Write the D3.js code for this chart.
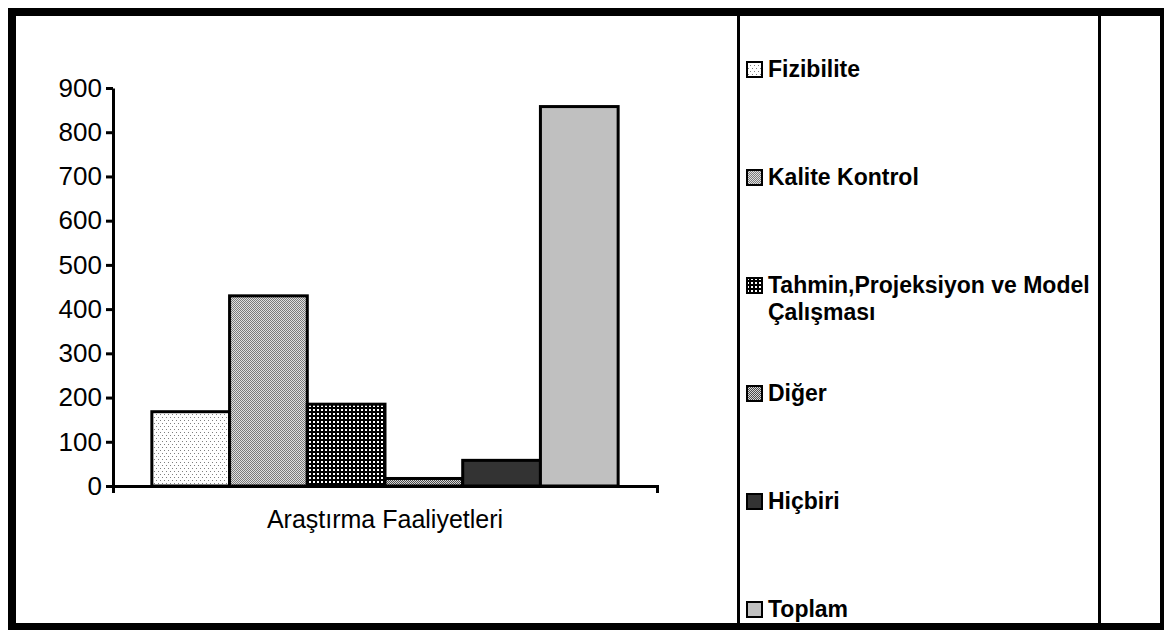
<!DOCTYPE HTML>
<html>
  <head>
    <meta charset='utf-8'>
    <title>Araştırma Faaliyetleri</title>
    <script src='https://d3js.org/d3.v7.min.js'></script>
    <style>
      body {margin:0; background:#fff;}
      svg text {font-family:'Liberation Sans',Arial,sans-serif; fill:#000;}
      .axis text {font-size:26px;}
      .legend text {font-size:23px; font-weight:bold;}
    </style>
  </head>
  <body>
<svg id='svg1' width='1164' height='630'></svg>
<script>
// data
var category='Araştırma Faaliyetleri';
var series=['Fizibilite','Kalite Kontrol','Tahmin,Projeksiyon ve Model Çalışması',
            'Diğer','Hiçbiri','Toplam'];
var values=[168,430,185,17,58,858];
var yTicks=[0,100,200,300,400,500,600,700,800,900];
var fills=['url(#pDots)','url(#pCheck)','url(#pGrid)','url(#pDiag)','#333333','#c0c0c0'];

var svg=d3.select('#svg1');

// fill patterns (Excel-like)
var defs=svg.append('defs');
var p=defs.append('pattern').attr('id','pDots').attr('patternUnits','userSpaceOnUse')
          .attr('width',4).attr('height',6);
p.append('rect').attr('width',4).attr('height',6).attr('fill','#fff');
p.append('rect').attr('x',0).attr('y',0).attr('width',1).attr('height',1).attr('fill','#808080');
p.append('rect').attr('x',2).attr('y',3).attr('width',1).attr('height',1).attr('fill','#808080');
p=defs.append('pattern').attr('id','pCheck').attr('patternUnits','userSpaceOnUse')
      .attr('width',2).attr('height',2);
p.append('rect').attr('width',2).attr('height',2).attr('fill','#e0e0e0');
p.append('rect').attr('width',1).attr('height',1).attr('fill','#7a7a7a');
p.append('rect').attr('x',1).attr('y',1).attr('width',1).attr('height',1).attr('fill','#7a7a7a');
p=defs.append('pattern').attr('id','pGrid').attr('patternUnits','userSpaceOnUse')
      .attr('width',4).attr('height',4);
p.append('rect').attr('width',4).attr('height',4).attr('fill','#000');
p.append('rect').attr('x',1).attr('y',1).attr('width',2).attr('height',2).attr('fill','#fff');
p=defs.append('pattern').attr('id','pDiag').attr('patternUnits','userSpaceOnUse')
      .attr('width',2).attr('height',2);
p.append('rect').attr('width',2).attr('height',2).attr('fill','#d8d8d8');
p.append('rect').attr('width',1).attr('height',1).attr('fill','#4a4a4a');
p.append('rect').attr('x',1).attr('y',1).attr('width',1).attr('height',1).attr('fill','#4a4a4a');

// outer frame
svg.append('rect').attr('x',12).attr('y',12).attr('width',1152).attr('height',615)
   .attr('fill','none').attr('stroke','#000').attr('stroke-width',8);

// scales
var y=d3.scaleLinear().domain([0,900]).range([486,88]);
var x0=d3.scaleLinear().domain([0,1]).range([113,657]);
var x1=d3.scaleBand().domain(series).range([113,657]).paddingInner(0).paddingOuter(0.5);

// bars
svg.append('g').selectAll('rect').data(series).enter().append('rect')
   .attr('x',function(d){return x1(d);})
   .attr('width',x1.bandwidth())
   .attr('y',function(d,i){return y(values[i]);})
   .attr('height',function(d,i){return y(0)-y(values[i]);})
   .attr('fill',function(d,i){return fills[i];})
   .attr('stroke','#000').attr('stroke-width',3);

// axes
svg.append('g').attr('class','axis').attr('transform','translate(113,0)')
   .call(d3.axisLeft(y).tickValues(yTicks).tickSize(7).tickSizeOuter(0).tickPadding(4));
svg.append('g').attr('class','axis').attr('transform','translate(0,486)')
   .call(d3.axisBottom(x0).tickValues([]).tickSizeOuter(7));
svg.selectAll('.axis path,.axis line').attr('stroke','#000').attr('stroke-width',3);
svg.selectAll('.axis text').attr('fill','#000');
svg.selectAll('.axis').attr('font-size',null).attr('font-family',null);
svg.append('text').attr('x',385).attr('y',528).attr('text-anchor','middle')
   .attr('font-size',25).text(category);

// legend box
svg.append('rect').attr('x',738.5).attr('y',14).attr('width',361).attr('height',612)
   .attr('fill','none').attr('stroke','#000').attr('stroke-width',3);

var lg=svg.append('g').attr('class','legend');
var item=lg.selectAll('g').data(series).enter().append('g')
           .attr('transform',function(d,i){return 'translate(746,'+(77+i*108)+')';});
item.append('rect').attr('x',1).attr('y',-15).attr('width',15).attr('height',15)
    .attr('fill',function(d,i){return fills[i];})
    .attr('stroke','#000').attr('stroke-width',2);
item.append('text').attr('x',22).attr('y',0).each(function(d){
  var t=d3.select(this), words=d.split(' '), line=[],
      ts=t.append('tspan').attr('x',22).attr('dy',0);
  words.forEach(function(w){
    line.push(w); ts.text(line.join(' '));
    if(ts.node().getComputedTextLength()>335 && line.length>1){
      line.pop(); ts.text(line.join(' ')); line=[w];
      ts=t.append('tspan').attr('x',22).attr('dy',27).text(w);
    }
  });
});
</script>
  </body>
</html>
